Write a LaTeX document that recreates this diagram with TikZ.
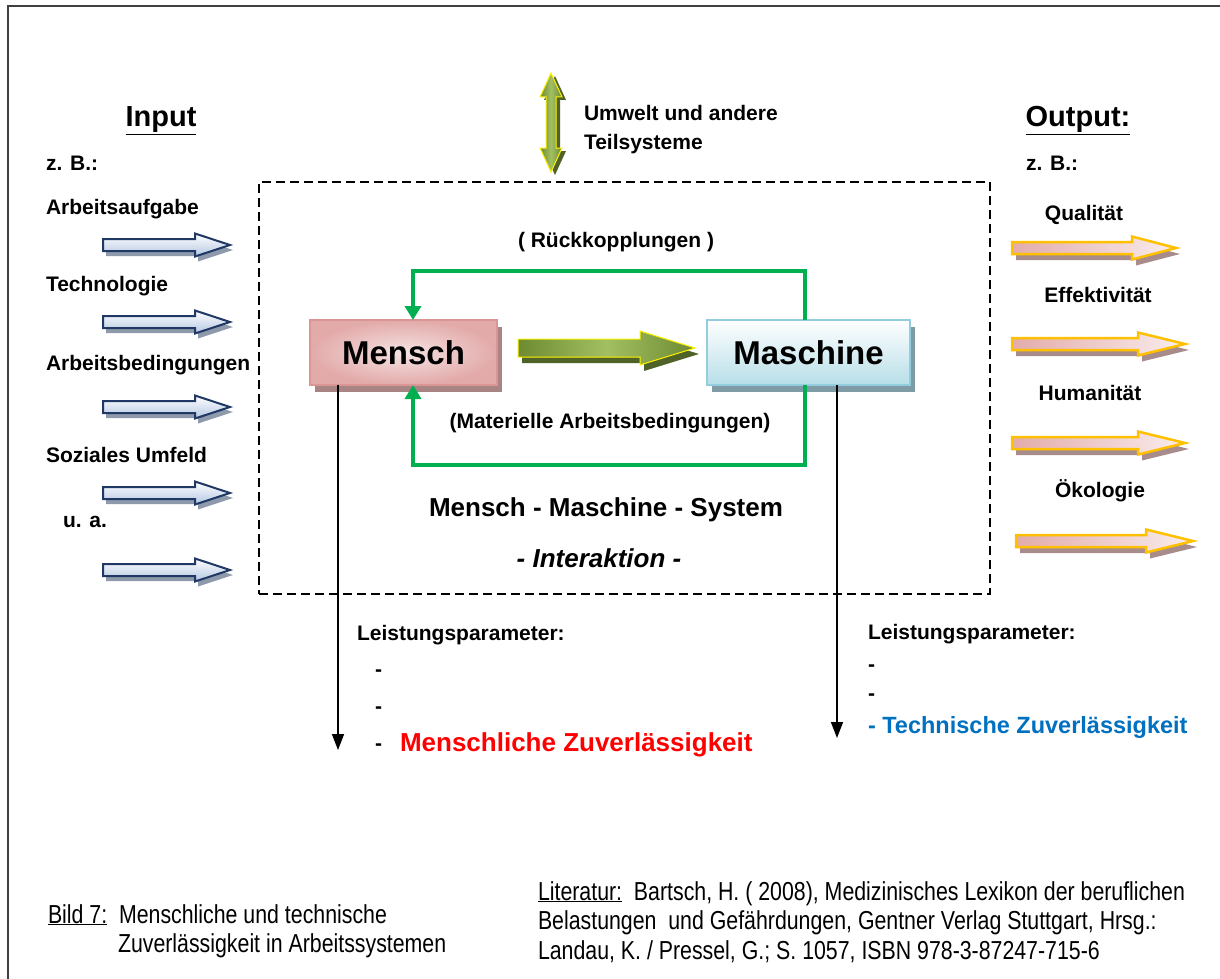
\documentclass[tikz,border=0pt]{standalone}
\usepackage{fontspec}
\setmainfont{Liberation Sans}
\newfontfamily\narrowfont[FakeStretch=0.82]{Liberation Sans}
\usetikzlibrary{arrows.meta}
\definecolor{navy}{HTML}{1F3864}
\definecolor{inlight}{HTML}{B4C7E2}
\definecolor{inshad}{HTML}{8E99AC}
\definecolor{outorange}{HTML}{FFC000}
\definecolor{outpinkA}{HTML}{E2ACAA}
\definecolor{outpinkB}{HTML}{FAEDED}
\definecolor{outshad}{HTML}{A88C8C}
\definecolor{gline}{HTML}{00B050}
\definecolor{oliveD}{HTML}{6E8A32}
\definecolor{oliveL}{HTML}{A2C062}
\definecolor{oliveS}{HTML}{4F6228}
\definecolor{menschB}{HTML}{DA9694}
\definecolor{menschO}{HTML}{E2AAA9}
\definecolor{menschI}{HTML}{F5E3E3}
\definecolor{menschS}{HTML}{A88484}
\definecolor{maschB}{HTML}{93CDDD}
\definecolor{maschL}{HTML}{B7DEE8}
\definecolor{maschS}{HTML}{7F9CA6}
\definecolor{redtxt}{HTML}{FF0000}
\definecolor{bluetxt}{HTML}{0070C0}
% #1 style, #2 x1, #3 x2, #4 y, #5 half shaft, #6 half head, #7 head length
\newcommand\rblk[7]{%
  \path[#1] (#2,#4-#5) -- (#3-#7,#4-#5) -- (#3-#7,#4-#6) -- (#3,#4)
    -- (#3-#7,#4+#6) -- (#3-#7,#4+#5) -- (#2,#4+#5) -- cycle;}
\begin{document}
\begin{tikzpicture}[x=1pt,y=-1pt,
  every node/.style={inner sep=0pt,outer sep=0pt,font=\bfseries\fontsize{21}{25}\selectfont},
  lbl/.style={anchor=base west},
  ctr/.style={anchor=base},
  bigtitle/.style={anchor=base,font=\bfseries\fontsize{29}{33}\selectfont},
  inarr/.style={draw=navy,line width=2pt,line join=miter,top color=white,bottom color=inlight},
  inshadow/.style={fill=inshad},
  outarr/.style={draw=outorange,line width=2.5pt,line join=miter,left color=outpinkA,right color=outpinkB},
  outshadow/.style={fill=outshad},
  olivearr/.style={draw=yellow,line width=1pt,left color=oliveD,right color=oliveD,middle color=oliveL},
  oliveshadow/.style={fill=oliveS},
  grarrow/.style={draw=gline,line width=4pt,-{Triangle[width=16pt,length=14pt]}},
  blarrow/.style={draw=black,line width=1.5pt,-{Triangle[width=12pt,length=16pt]}},
  capfont/.style={font=\narrowfont\fontsize{26}{30}\selectfont}
]
\useasboundingbox (0,0) rectangle (1220,979);
\fill[white] (0,0) rectangle (1220,979);
% outer frame
\draw[line width=2pt,black!75] (8,979) -- (8,6) -- (1220,6);

% system box
\node[draw,line width=1.8pt,dash pattern=on 9pt off 5pt,minimum width=731pt,minimum height=412pt] (sys) at (624.5,388) {};

% Input column
\node[bigtitle] (input) at (161,127) {\underline{Input}};
\node[lbl] (izb) at (46,170.5) {z. B.:};
\node[lbl] (i1) at (46,214.5) {Arbeitsaufgabe};
\node[lbl] (i2) at (46,291.5) {Technologie};
\node[lbl,fill=white,inner xsep=8pt,inner ysep=14pt] (i3) at (38,370.5) {Arbeitsbedingungen};
\node[lbl] (i4) at (46,462.5) {Soziales Umfeld};
\node[lbl] (i5) at (63,527.5) {u. a.};
\foreach \yy in {245,322,407,493,570}{
  \rblk{inshadow}{106}{233}{\yy+5}{6}{11.5}{35}
  \rblk{inarr}{103}{230}{\yy}{6}{11.5}{35}
}

% Output column
\node[bigtitle] (output) at (1078,127) {\underline{Output:}};
\node[lbl] (ozb) at (1026,170.5) {z. B.:};
\node[ctr] (o1) at (1084,220.5) {Qualität};
\node[ctr] (o2) at (1098,302.5) {Effektivität};
\node[ctr] (o3) at (1090,400.5) {Humanität};
\node[ctr] (o4) at (1100,497.5) {Ökologie};
\rblk{outshadow}{1016}{1180}{254}{6}{11.5}{44}
\rblk{outarr}{1012}{1176}{248}{6}{11.5}{44}
\rblk{outshadow}{1016}{1189}{350}{6}{11.5}{47}
\rblk{outarr}{1012}{1185}{344}{6}{11.5}{47}
\rblk{outshadow}{1016}{1189}{449}{6}{11.5}{47}
\rblk{outarr}{1012}{1185}{443}{6}{11.5}{47}
\rblk{outshadow}{1020}{1197}{547}{6}{11.5}{47}
\rblk{outarr}{1016}{1193}{541}{6}{11.5}{47}

% environment double arrow
\path[oliveshadow] (555,76) -- (566,100) -- (560,100) -- (560,151) -- (566,151) -- (555,175) -- (544,151) -- (550,151) -- (550,100) -- (544,100) -- cycle;
\path[olivearr] (551,73) -- (562,97) -- (556,97) -- (556,148) -- (562,148) -- (551,172) -- (540,148) -- (546,148) -- (546,97) -- (540,97) -- cycle;
\node[lbl] (umw1) at (584,120.5) {Umwelt und andere};
\node[lbl] (umw2) at (584,149.5) {Teilsysteme};

% feedback label
\node[ctr] (rk) at (616,247.5) {( Rückkopplungen )};

% boxes
\fill[menschS] (315,327) rectangle (502,392);
\fill[maschS] (712,327) rectangle (915,392);
\node[draw=menschB,line width=1.5pt,inner color=menschI,outer color=menschO,
  minimum width=187pt,minimum height=65pt,font=\bfseries\fontsize{33}{37}\selectfont] (mensch) at (403.5,352.5) {Mensch};
\node[draw=maschB,line width=2pt,top color=white,bottom color=maschL,
  minimum width=203pt,minimum height=65pt,font=\bfseries\fontsize{33}{37}\selectfont] (maschine) at (808.5,352.5) {Maschine};

% middle arrow
\rblk{oliveshadow}{522}{699}{354}{9}{17}{55}
\rblk{olivearr}{518}{695}{348}{9}{17}{55}

% green feedback loops
\coordinate (lx) at (413,0);
\coordinate (rx) at (805,0);
\coordinate (ty) at (0,271);
\coordinate (by) at (0,465);
\draw[grarrow] (maschine.north -| rx) -- (rx |- ty) -- (lx |- ty) -- (mensch.north -| lx);
\draw[grarrow] (maschine.south -| rx) -- (rx |- by) -- (lx |- by) -- (mensch.south -| lx);
\node[ctr] (mat) at (610,428.5) {(Materielle Arbeitsbedingungen)};

% system labels
\node[ctr,font=\bfseries\fontsize{26}{30}\selectfont] (mms) at (606,516.5) {Mensch - Maschine - System};
\node[ctr,font=\bfseries\itshape\fontsize{26}{30}\selectfont] (inter) at (599,567.5) {- Interaktion -};

% performance arrows
\coordinate (lend) at (338,750);
\coordinate (rend) at (837,738);
\draw[blarrow] (mensch.south -| lend) -- (lend);
\draw[blarrow] (maschine.south -| rend) -- (rend);

\node[lbl] (lp1) at (357,640.5) {Leistungsparameter:};
\node[lbl] (ld1) at (375,676) {-};
\node[lbl] (ld2) at (375,713) {-};
\node[lbl] (ld3) at (375,750) {-};
\node[lbl,text=redtxt,font=\bfseries\fontsize{26}{30}\selectfont] (mz) at (400,751) {Menschliche Zuverlässigkeit};

\node[lbl] (lp2) at (868,639.5) {Leistungsparameter:};
\node[lbl] (rd1) at (868,671) {-};
\node[lbl] (rd2) at (868,700) {-};
\node[lbl,text=bluetxt,font=\bfseries\fontsize{23.5}{28}\selectfont] (tz) at (868,733.5) {- Technische Zuverlässigkeit};

% captions
\node[lbl,capfont] (bild1) at (48,923) {\underline{Bild 7:}\ \ Menschliche und technische};
\node[lbl,capfont] (bild2) at (118,952) {Zuverlässigkeit in Arbeitssystemen};
\node[lbl,capfont] (lit1) at (538,900) {\underline{Literatur:}\ \ Bartsch, H. ( 2008), Medizinisches Lexikon der beruflichen};
\node[lbl,capfont] (lit2) at (538,929.5) {Belastungen\ \ und Gefährdungen, Gentner Verlag Stuttgart, Hrsg.:};
\node[lbl,capfont] (lit3) at (538,959) {Landau, K. / Pressel, G.; S. 1057, ISBN 978-3-87247-715-6};
\end{tikzpicture}
\end{document}
